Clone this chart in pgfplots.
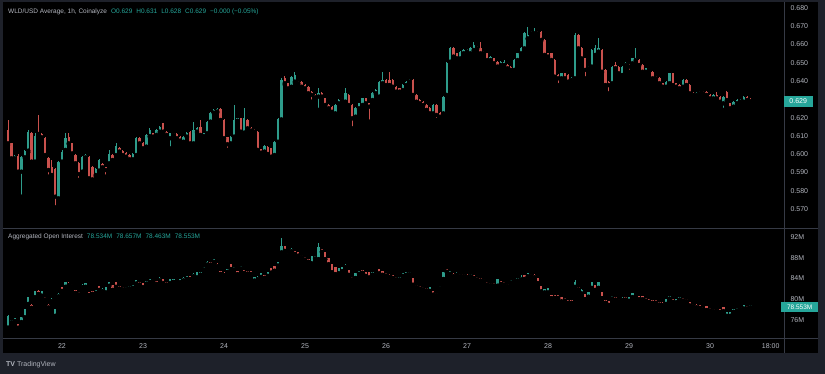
\documentclass[border=0pt]{standalone}
\usepackage{fontspec}
\setmainfont{Liberation Sans}
\usepackage{pgfplots}
\usepackage{pgfplotstable}
\pgfplotsset{compat=1.18}
\definecolor{framecol}{HTML}{1E212A}
\definecolor{sepcol}{HTML}{363A45}
\definecolor{lbl}{HTML}{B2B5BE}
\definecolor{tealb}{HTML}{26A69A}
\definecolor{upc}{HTML}{2E9C8B}
\definecolor{dnc}{HTML}{C9514D}

\pgfplotstableread{
t o hi lo c
0 0.6132 0.6187 0.6050 0.6059
1 0.6059 0.6062 0.5968 0.5977
2 0.5977 0.5995 0.5970 0.5990
3 0.5990 0.6000 0.5891 0.5904
4 0.5904 0.5990 0.5767 0.5983
5 0.5983 0.6025 0.5978 0.6019
6 0.6019 0.6132 0.6010 0.6123
7 0.6114 0.6120 0.5950 0.5959
8 0.5959 0.6114 0.5950 0.6099
9 0.6118 0.6214 0.6105 0.6110
10 0.6110 0.6115 0.6088 0.6092
11 0.6087 0.6092 0.5990 0.5995
12 0.5977 0.5985 0.5877 0.5913
13 0.5928 0.5968 0.5880 0.5886
14 0.5917 0.5925 0.5709 0.5767
15 0.5758 0.5965 0.5750 0.5959
16 0.5959 0.6020 0.5955 0.6014
17 0.6023 0.6114 0.6018 0.6087
18 0.6096 0.6118 0.6055 0.6059
19 0.6059 0.6062 0.5998 0.6004
20 0.5995 0.6000 0.5945 0.5950
21 0.5950 0.5955 0.5859 0.5891
22 0.5904 0.5990 0.5898 0.5983
23 0.5983 0.6000 0.5978 0.5994
24 0.5986 0.5992 0.5859 0.5868
25 0.5928 0.5935 0.5855 0.5862
26 0.5886 0.5922 0.5880 0.5917
27 0.5910 0.5975 0.5905 0.5968
28 0.5946 0.5952 0.5922 0.5928
29 0.5928 0.5932 0.5877 0.5913
30 0.5950 0.6023 0.5945 0.6001
31 0.5995 0.6000 0.5962 0.5968
32 0.5995 0.6059 0.5990 0.6046
33 0.6032 0.6038 0.6010 0.6014
34 0.6019 0.6024 0.5990 0.5995
35 0.6008 0.6012 0.5982 0.5986
36 0.5995 0.6000 0.5968 0.5972
37 0.5972 0.6006 0.5966 0.6001
38 0.5995 0.6092 0.5990 0.6087
39 0.6087 0.6092 0.6055 0.6059
40 0.6063 0.6068 0.6028 0.6032
41 0.6041 0.6110 0.6036 0.6105
42 0.6099 0.6141 0.6094 0.6132
43 0.6114 0.6118 0.6092 0.6096
44 0.6105 0.6136 0.6100 0.6132
45 0.6123 0.6156 0.6118 0.6151
46 0.6169 0.6172 0.6118 0.6123
47 0.6123 0.6128 0.6100 0.6105
48 0.6087 0.6118 0.6032 0.6114
49 0.6114 0.6118 0.6100 0.6105
50 0.6110 0.6114 0.6082 0.6087
51 0.6096 0.6100 0.6068 0.6074
52 0.6068 0.6100 0.6063 0.6096
53 0.6096 0.6120 0.6092 0.6114
54 0.6123 0.6128 0.6054 0.6059
55 0.6059 0.6178 0.6054 0.6132
56 0.6123 0.6146 0.6118 0.6141
57 0.6151 0.6187 0.6100 0.6105
58 0.6099 0.6118 0.6095 0.6114
59 0.6114 0.6183 0.6110 0.6178
60 0.6178 0.6232 0.6174 0.6227
61 0.6227 0.6246 0.6222 0.6242
62 0.6233 0.6251 0.6228 0.6247
63 0.6247 0.6251 0.6182 0.6187
64 0.6187 0.6192 0.6082 0.6087
65 0.6092 0.6096 0.6023 0.6054
66 0.6059 0.6100 0.6054 0.6096
67 0.6096 0.6269 0.6092 0.6187
68 0.6183 0.6200 0.6178 0.6196
69 0.6196 0.6200 0.6118 0.6123
70 0.6118 0.6251 0.6114 0.6196
71 0.6187 0.6192 0.6136 0.6141
72 0.6141 0.6146 0.6124 0.6129
73 0.6132 0.6136 0.6118 0.6123
74 0.6123 0.6128 0.6018 0.6023
75 0.6026 0.6030 0.6004 0.6008
76 0.6014 0.6050 0.6010 0.6046
77 0.6041 0.6046 0.5996 0.6001
78 0.6032 0.6036 0.5977 0.5986
79 0.5995 0.6072 0.5990 0.6068
80 0.6068 0.6200 0.6063 0.6190
81 0.6190 0.6415 0.6185 0.6406
82 0.6415 0.6430 0.6380 0.6388
83 0.6388 0.6392 0.6355 0.6360
84 0.6369 0.6430 0.6362 0.6424
85 0.6397 0.6451 0.6390 0.6433
86 0.6397 0.6402 0.6382 0.6388
87 0.6397 0.6402 0.6364 0.6369
88 0.6378 0.6383 0.6355 0.6360
89 0.6369 0.6374 0.6328 0.6333
90 0.6342 0.6346 0.6287 0.6324
91 0.6324 0.6328 0.6305 0.6311
92 0.6315 0.6360 0.6242 0.6333
93 0.6333 0.6338 0.6310 0.6315
94 0.6305 0.6310 0.6264 0.6269
95 0.6269 0.6274 0.6246 0.6251
96 0.6260 0.6264 0.6228 0.6232
97 0.6223 0.6274 0.6205 0.6269
98 0.6278 0.6300 0.6274 0.6296
99 0.6296 0.6310 0.6292 0.6305
100 0.6287 0.6360 0.6282 0.6333
101 0.6324 0.6328 0.6264 0.6269
102 0.6269 0.6274 0.6141 0.6196
103 0.6205 0.6256 0.6200 0.6251
104 0.6251 0.6282 0.6246 0.6278
105 0.6269 0.6310 0.6264 0.6305
106 0.6305 0.6310 0.6274 0.6278
107 0.6278 0.6282 0.6178 0.6260
108 0.6296 0.6338 0.6292 0.6333
109 0.6333 0.6356 0.6328 0.6351
110 0.6315 0.6402 0.6310 0.6397
111 0.6388 0.6451 0.6383 0.6406
112 0.6406 0.6411 0.6374 0.6378
113 0.6406 0.6451 0.6374 0.6378
114 0.6406 0.6411 0.6364 0.6369
115 0.6369 0.6374 0.6338 0.6342
116 0.6360 0.6364 0.6338 0.6342
117 0.6351 0.6383 0.6346 0.6378
118 0.6378 0.6402 0.6374 0.6397
119 0.6397 0.6411 0.6392 0.6406
120 0.6406 0.6411 0.6320 0.6324
121 0.6324 0.6328 0.6282 0.6287
122 0.6296 0.6300 0.6274 0.6278
123 0.6287 0.6292 0.6264 0.6269
124 0.6269 0.6274 0.6238 0.6242
125 0.6251 0.6256 0.6218 0.6223
126 0.6223 0.6274 0.6218 0.6269
127 0.6269 0.6274 0.6187 0.6214
128 0.6223 0.6228 0.6196 0.6205
129 0.6223 0.6320 0.6218 0.6315
130 0.6324 0.6502 0.6320 0.6497
131 0.6506 0.6584 0.6502 0.6579
132 0.6579 0.6584 0.6530 0.6534
133 0.6552 0.6556 0.6520 0.6524
134 0.6524 0.6566 0.6506 0.6561
135 0.6552 0.6575 0.6548 0.6570
136 0.6561 0.6575 0.6556 0.6570
137 0.6552 0.6584 0.6548 0.6579
138 0.6570 0.6616 0.6566 0.6597
139 0.6588 0.6592 0.6575 0.6579
140 0.6579 0.6616 0.6548 0.6552
141 0.6561 0.6566 0.6548 0.6552
142 0.6552 0.6556 0.6510 0.6515
143 0.6515 0.6538 0.6510 0.6534
144 0.6524 0.6528 0.6492 0.6497
145 0.6506 0.6510 0.6474 0.6479
146 0.6488 0.6510 0.6483 0.6506
147 0.6488 0.6515 0.6483 0.6506
148 0.6488 0.6492 0.6465 0.6470
149 0.6479 0.6483 0.6456 0.6461
150 0.6461 0.6520 0.6456 0.6515
151 0.6515 0.6556 0.6510 0.6552
152 0.6552 0.6584 0.6548 0.6579
153 0.6579 0.6666 0.6575 0.6661
154 0.6634 0.6698 0.6630 0.6652
155 0.6661 0.6675 0.6656 0.6670
156 0.6661 0.6689 0.6656 0.6670
157 0.6670 0.6675 0.6656 0.6661
158 0.6670 0.6675 0.6620 0.6625
159 0.6625 0.6630 0.6538 0.6543
160 0.6552 0.6556 0.6530 0.6534
161 0.6552 0.6556 0.6510 0.6515
162 0.6515 0.6520 0.6420 0.6424
163 0.6433 0.6438 0.6378 0.6415
164 0.6415 0.6446 0.6410 0.6442
165 0.6442 0.6446 0.6410 0.6415
166 0.6433 0.6438 0.6392 0.6397
167 0.6406 0.6420 0.6400 0.6415
168 0.6415 0.6661 0.6410 0.6652
169 0.6652 0.6656 0.6575 0.6579
170 0.6579 0.6584 0.6520 0.6524
171 0.6524 0.6528 0.6415 0.6461
172 0.6470 0.6484 0.6465 0.6479
173 0.6479 0.6575 0.6474 0.6570
174 0.6543 0.6597 0.6538 0.6579
175 0.6561 0.6634 0.6556 0.6579
176 0.6570 0.6575 0.6446 0.6451
177 0.6461 0.6465 0.6374 0.6378
178 0.6397 0.6402 0.6333 0.6378
179 0.6388 0.6484 0.6383 0.6479
180 0.6488 0.6506 0.6465 0.6470
181 0.6479 0.6484 0.6438 0.6442
182 0.6433 0.6484 0.6428 0.6479
183 0.6488 0.6502 0.6483 0.6497
184 0.6488 0.6492 0.6451 0.6479
185 0.6497 0.6528 0.6492 0.6524
186 0.6515 0.6579 0.6510 0.6524
187 0.6515 0.6520 0.6483 0.6488
188 0.6488 0.6492 0.6446 0.6451
189 0.6451 0.6474 0.6446 0.6470
190 0.6461 0.6474 0.6456 0.6470
191 0.6451 0.6456 0.6410 0.6415
192 0.6424 0.6428 0.6410 0.6415
193 0.6415 0.6420 0.6383 0.6388
194 0.6388 0.6392 0.6364 0.6369
195 0.6369 0.6402 0.6364 0.6397
196 0.6388 0.6446 0.6383 0.6442
197 0.6442 0.6446 0.6374 0.6378
198 0.6388 0.6392 0.6364 0.6369
199 0.6378 0.6383 0.6355 0.6360
200 0.6369 0.6411 0.6364 0.6406
201 0.6406 0.6411 0.6374 0.6378
202 0.6378 0.6383 0.6328 0.6333
203 0.6333 0.6338 0.6320 0.6324
204 0.6324 0.6338 0.6320 0.6333
205 0.6333 0.6346 0.6328 0.6342
206 0.6342 0.6346 0.6328 0.6333
207 0.6342 0.6346 0.6320 0.6324
208 0.6324 0.6328 0.6300 0.6305
209 0.6305 0.6328 0.6300 0.6324
210 0.6324 0.6342 0.6300 0.6305
211 0.6315 0.6320 0.6282 0.6287
212 0.6278 0.6320 0.6242 0.6315
213 0.6342 0.6346 0.6292 0.6296
214 0.6278 0.6282 0.6246 0.6251
215 0.6260 0.6292 0.6256 0.6287
216 0.6278 0.6300 0.6274 0.6296
217 0.6287 0.6300 0.6282 0.6296
218 0.6287 0.6320 0.6282 0.6315
219 0.6315 0.6320 0.6292 0.6296
220 0.6292 0.6310 0.6280 0.6290
}\price

\pgfplotstableread{
t o hi lo c
0 74.73 76.90 74.50 76.66
1 75.75 76.10 75.50 75.85
2 76.00 76.30 75.80 76.10
3 75.05 75.20 74.41 74.73
4 75.70 76.50 75.60 76.34
5 76.66 78.10 76.50 77.94
6 79.23 80.40 79.10 80.19
7 78.70 79.10 78.20 78.55
8 80.51 81.60 80.40 81.47
9 81.47 81.80 81.00 81.15
10 80.83 81.60 80.70 81.47
11 80.25 80.50 79.90 80.15
12 78.78 79.10 78.30 78.65
13 79.80 80.20 79.60 79.90
14 76.98 78.10 76.80 77.94
15 80.78 81.20 80.50 80.88
16 82.12 82.30 81.60 81.79
17 82.56 83.40 82.40 83.21
18 83.00 83.30 82.70 82.90
19 82.80 83.00 82.50 82.70
20 81.52 81.80 81.20 81.42
21 81.20 81.40 80.90 81.10
22 82.50 82.90 82.30 82.60
23 82.56 83.10 82.40 82.95
24 81.20 81.40 80.80 81.02
25 81.30 81.60 81.00 81.25
26 81.43 81.80 81.20 81.53
27 82.31 82.50 81.80 81.92
28 81.75 82.10 81.50 81.85
29 81.47 82.30 81.30 82.12
30 82.76 83.40 82.60 83.21
31 82.56 82.70 81.80 81.92
32 83.08 83.20 82.40 82.56
33 82.36 82.60 82.00 82.26
34 82.17 82.40 81.90 82.07
35 82.07 82.40 81.90 82.17
36 82.26 82.60 82.10 82.36
37 82.39 82.70 82.20 82.49
38 83.21 83.80 83.00 83.59
39 83.13 83.40 82.80 83.03
40 82.95 83.10 82.30 82.44
41 83.16 83.50 83.00 83.26
42 83.54 83.90 83.30 83.64
43 83.67 84.00 83.50 83.77
44 83.26 83.50 82.90 83.16
45 83.80 84.20 83.60 83.90
46 83.72 83.90 83.10 83.21
47 83.13 83.40 82.80 83.03
48 83.21 83.90 83.10 83.72
49 83.54 83.90 83.30 83.64
50 83.67 84.00 83.50 83.77
51 83.40 83.90 83.30 83.72
52 83.80 84.20 83.60 83.90
53 84.12 84.50 83.90 84.22
54 84.36 84.50 83.90 84.04
55 84.63 85.00 84.40 84.73
56 84.36 85.20 84.20 85.00
57 84.95 85.30 84.70 85.05
58 85.92 86.30 85.70 86.02
59 86.88 87.30 86.60 86.98
60 86.98 87.20 86.60 86.88
61 87.39 87.80 87.20 87.49
62 86.66 86.90 86.30 86.56
63 85.18 85.40 84.80 85.08
64 84.93 85.20 84.60 84.83
65 85.47 85.80 85.20 85.57
66 86.61 86.80 85.80 85.97
67 85.92 86.30 85.70 86.02
68 85.33 85.50 84.80 85.00
69 86.11 86.50 85.90 86.21
70 85.38 85.60 85.00 85.28
71 85.25 85.50 84.90 85.15
72 85.18 85.40 84.80 85.08
73 83.72 84.20 83.60 84.04
74 84.04 84.40 83.80 84.14
75 84.49 85.00 84.30 84.88
76 84.41 84.60 84.10 84.31
77 84.68 85.30 84.50 85.13
78 85.77 85.90 85.10 85.33
79 86.16 86.30 85.50 85.65
80 86.61 87.10 86.50 86.93
81 89.18 91.74 89.00 90.14
82 90.14 90.30 89.30 89.50
83 88.78 89.00 88.50 88.68
84 89.45 89.80 89.20 89.55
85 89.03 89.30 88.70 88.93
86 88.86 89.00 88.40 88.54
87 88.39 88.60 88.10 88.29
88 87.94 88.20 87.60 87.84
89 87.49 87.70 87.20 87.39
90 87.06 88.40 86.90 88.21
91 88.04 88.40 87.80 88.14
92 87.89 90.78 87.70 89.82
93 89.45 89.70 89.10 89.35
94 88.86 89.00 87.70 87.89
95 87.70 87.90 86.70 86.93
96 86.61 86.80 85.20 85.33
97 85.97 86.10 84.80 85.00
98 85.13 85.90 85.00 85.77
99 85.52 86.10 85.40 85.97
100 86.37 86.70 86.20 86.47
101 85.52 85.70 84.70 84.88
102 84.09 84.30 83.80 83.99
103 84.22 85.00 84.10 84.88
104 85.08 85.40 84.90 85.18
105 85.38 85.60 85.10 85.28
106 85.13 85.30 84.50 84.68
107 85.00 85.20 84.20 84.36
108 84.95 85.30 84.70 85.05
109 84.93 85.10 84.60 84.83
110 85.65 85.80 85.00 85.13
111 85.33 85.50 84.70 84.88
112 84.86 85.10 84.50 84.76
113 84.56 84.80 84.30 84.46
114 84.41 84.60 84.10 84.31
115 84.09 84.30 83.80 83.99
116 83.98 84.30 83.80 84.08
117 84.68 85.00 84.50 84.78
118 84.88 85.20 84.70 84.98
119 85.00 85.30 84.80 85.10
120 83.85 84.00 82.80 82.95
121 82.61 82.80 82.30 82.51
122 82.36 82.60 82.00 82.26
123 82.17 82.40 81.90 82.07
124 81.97 82.20 81.70 81.87
125 81.79 82.30 81.60 82.12
126 81.47 81.60 80.90 81.02
127 81.07 81.30 80.80 80.97
128 82.26 82.60 82.10 82.36
129 84.04 85.20 83.90 85.00
130 85.57 85.80 85.30 85.47
131 85.08 85.40 84.90 85.18
132 84.73 85.00 84.40 84.63
133 84.83 85.33 84.70 84.93
134 84.73 84.90 84.40 84.63
135 84.70 84.90 84.40 84.66
136 84.54 84.80 84.30 84.44
137 84.63 84.90 84.40 84.73
138 84.41 84.60 84.10 84.31
139 84.09 84.30 83.80 83.99
140 83.90 84.10 83.60 83.80
141 83.77 84.00 83.50 83.67
142 83.13 83.40 82.80 83.03
143 83.00 83.20 82.70 82.90
144 82.94 83.10 82.60 82.84
145 82.76 83.90 82.60 83.72
146 83.26 83.50 82.90 83.16
147 83.13 83.40 82.80 83.03
148 82.81 83.00 82.50 82.71
149 83.40 83.70 83.20 83.50
150 83.77 84.00 83.50 83.67
151 83.80 84.10 83.60 83.90
152 84.00 84.70 83.80 84.10
153 84.49 84.60 83.90 84.04
154 84.58 85.00 84.40 84.88
155 84.73 84.90 84.40 84.63
156 84.54 84.80 84.20 84.44
157 83.85 84.00 83.10 83.21
158 82.31 82.50 81.50 81.67
159 81.47 81.90 81.30 81.79
160 81.47 82.10 81.30 81.92
161 80.70 80.90 80.20 80.38
162 80.56 80.80 80.20 80.46
163 80.56 80.80 80.20 80.46
164 80.19 80.40 79.60 79.74
165 80.04 80.30 79.70 79.94
166 79.60 79.80 79.30 79.50
167 79.60 79.80 79.30 79.50
168 82.56 83.72 82.40 83.21
169 82.17 82.40 81.90 82.07
170 81.28 81.92 81.10 81.67
171 80.83 81.00 80.00 80.19
172 80.63 81.40 80.50 81.28
173 82.31 83.20 82.20 83.08
174 82.56 82.70 81.80 81.92
175 82.31 83.20 82.20 83.08
176 81.28 81.40 80.20 80.38
177 79.60 79.80 79.30 79.50
178 79.55 79.70 78.90 79.10
179 80.33 80.70 80.10 80.43
180 80.24 80.40 79.90 80.14
181 79.92 80.10 79.60 79.82
182 80.04 80.40 79.80 80.14
183 80.24 80.40 79.90 80.14
184 79.87 80.50 79.70 80.32
185 80.51 81.20 80.40 81.02
186 80.78 81.10 80.60 80.88
187 80.38 80.50 80.00 80.13
188 80.38 80.50 80.00 80.13
189 80.04 80.20 79.70 79.94
190 79.79 80.00 79.50 79.69
191 79.60 79.80 79.30 79.50
192 79.60 79.80 79.30 79.50
193 79.28 79.50 78.91 79.18
194 79.15 79.40 78.80 79.05
195 79.23 80.00 79.10 79.87
196 80.33 80.70 80.10 80.43
197 79.79 80.00 79.50 79.69
198 79.55 80.00 79.40 79.87
199 80.14 80.50 79.90 80.24
200 80.04 80.20 79.70 79.94
201 79.92 80.10 79.60 79.82
202 79.35 79.50 78.80 78.91
203 78.96 79.10 78.60 78.86
204 78.76 79.00 78.40 78.66
205 78.63 78.80 78.30 78.53
206 78.38 78.60 78.00 78.28
207 78.46 78.60 77.90 78.07
208 78.12 78.30 77.80 78.02
209 77.99 78.20 77.70 77.89
210 77.99 78.20 77.70 77.89
211 77.86 78.10 77.50 77.76
212 78.26 78.40 77.70 77.81
213 76.98 77.60 76.80 77.43
214 76.98 77.60 76.80 77.43
215 77.76 78.10 77.60 77.86
216 78.02 78.30 77.80 78.12
217 78.38 78.60 78.10 78.28
218 78.38 78.90 78.20 78.71
219 78.51 78.70 78.20 78.41
220 78.534 78.657 78.463 78.553
}\oi

\pgfplotsset{
  wick/.style 2 args={only marks, mark=none, error bars/.cd, y dir=plus, y explicit, error mark=none,
    error bar style={line width=#2, draw=#1}},
  body/.style={only marks, mark=none, error bars/.cd, y dir=plus, y explicit, error mark=none,
    error bar style={line width=2.4pt, draw=#1}},
  pane/.style={scale only axis, width=781pt, xmin=21.2716, xmax=30.9136,
    axis line style={draw=none}, tick style={draw=none}, major tick length=0pt,
    yticklabel pos=right,
    /pgf/number format/assume math mode=true,
    ticklabel style={font=\fontsize{7}{8}\selectfont, text=lbl},
    yticklabel style={anchor=west, xshift=3pt},
    anchor=south west}
}

\begin{document}
\begin{tikzpicture}[x=1pt,y=1pt]
\fill[framecol] (0,0) rectangle (825,374);
\fill[black] (3,21) rectangle (818,372);
\draw[sepcol, line width=0.8pt] (3,146) -- (818,146);
\draw[sepcol, line width=0.8pt] (3,36) -- (818,36);
\draw[sepcol, line width=0.8pt] (784,21) -- (784,372);

\begin{axis}[pane, at={(3pt,146pt)}, height=226pt,
  ymin=0.55958, ymax=0.68328,
  xtick=\empty,
  ytick={0.57,0.58,0.59,0.6,0.61,0.62,0.64,0.65,0.66,0.67,0.68},
  yticklabel style={/pgf/number format/.cd, fixed, fixed zerofill, precision=3}]
\addplot[wick={upc}{0.8pt}] table[x expr=21.33333+\thisrow{t}/24,
  y expr={\thisrow{c}>=\thisrow{o} ? \thisrow{lo} : nan},
  y error plus expr={\thisrow{hi}-\thisrow{lo}}] {\price};
\addplot[wick={dnc}{0.8pt}] table[x expr=21.33333+\thisrow{t}/24,
  y expr={\thisrow{c}<\thisrow{o} ? \thisrow{lo} : nan},
  y error plus expr={\thisrow{hi}-\thisrow{lo}}] {\price};
\addplot[body=upc] table[x expr=21.33333+\thisrow{t}/24,
  y expr={\thisrow{c}>=\thisrow{o} ? \thisrow{o} : nan},
  y error plus expr={max(\thisrow{c}-\thisrow{o},0.0006)}] {\price};
\addplot[body=dnc] table[x expr=21.33333+\thisrow{t}/24,
  y expr={\thisrow{c}<\thisrow{o} ? \thisrow{c} : nan},
  y error plus expr={max(\thisrow{o}-\thisrow{c},0.0006)}] {\price};
\end{axis}

\begin{axis}[pane, at={(3pt,36pt)}, height=110pt,
  ymin=72.54, ymax=93.73,
  xtick={22,23,24,25,26,27,28,29,30,30.75},
  xticklabels={22,23,24,25,26,27,28,29,30,18:00},
  xticklabel style={anchor=center, yshift=-8pt},
  ytick={76,80,84,88,92},
  yticklabels={76M,80M,84M,88M,92M}]
\addplot[wick={upc}{1pt}] table[x expr=21.33333+\thisrow{t}/24,
  y expr={\thisrow{c}>=\thisrow{o} ? \thisrow{lo} : nan},
  y error plus expr={\thisrow{hi}-\thisrow{lo}}] {\oi};
\addplot[wick={dnc}{1pt}] table[x expr=21.33333+\thisrow{t}/24,
  y expr={\thisrow{c}<\thisrow{o} ? \thisrow{lo} : nan},
  y error plus expr={\thisrow{hi}-\thisrow{lo}}] {\oi};
\addplot[body=upc] table[x expr=21.33333+\thisrow{t}/24,
  y expr={\thisrow{c}>=\thisrow{o} ? \thisrow{o}-0.2 : nan},
  y error plus expr={max(\thisrow{c}-\thisrow{o},0.1)+0.4}] {\oi};
\addplot[body=dnc] table[x expr=21.33333+\thisrow{t}/24,
  y expr={\thisrow{c}<\thisrow{o} ? \thisrow{c}-0.2 : nan},
  y error plus expr={max(\thisrow{o}-\thisrow{c},0.1)+0.4}] {\oi};
\end{axis}

% badges
\node[fill=tealb, text=white, font=\fontsize{7}{8}\selectfont, inner sep=0pt,
  minimum width=29pt, minimum height=11pt, anchor=west] at (783.5,272.8) {0.629};
\node[fill=tealb, text=white, font=\fontsize{6.5}{7}\selectfont, inner sep=0pt,
  minimum width=37pt, minimum height=10pt, anchor=west] at (781,67.2) {78.553M};

% headers
\node[anchor=west, inner sep=0pt, font=\fontsize{6.5}{8}\selectfont, text=lbl] at (8,362)
  {WLD/USD Average, 1h, Coinalyze\hspace{4pt}\textcolor{tealb}{O0.629\hspace{4pt}H0.631\hspace{4pt}L0.628\hspace{4pt}C0.629\hspace{4pt}−0.000 (−0.05\%)}};
\node[anchor=west, inner sep=0pt, font=\fontsize{6.5}{8}\selectfont, text=lbl] at (8,137)
  {Aggregated Open Interest\hspace{4pt}\textcolor{tealb}{78.534M\hspace{4pt}78.657M\hspace{4pt}78.463M\hspace{4pt}78.553M}};
\node[anchor=west, inner sep=0pt, font=\fontsize{7}{8}\selectfont, text=lbl] at (6,9)
  {\textbf{TV}\hspace{2pt}TradingView};

\pgfresetboundingbox
\useasboundingbox (0,0) rectangle (825,374);
\end{tikzpicture}
\end{document}
